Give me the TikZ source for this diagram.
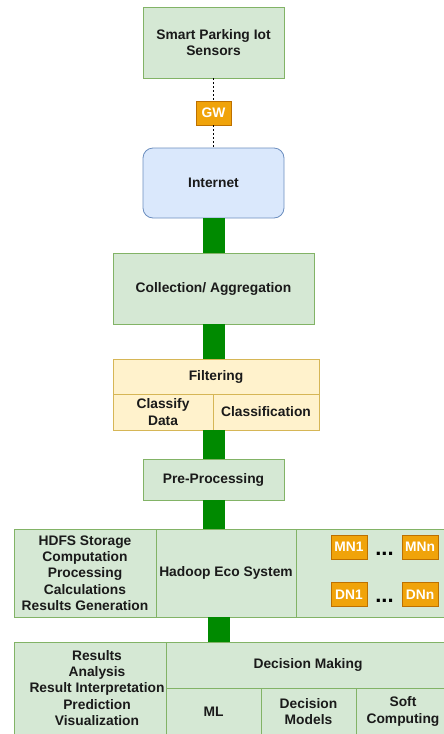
\documentclass[tikz,border=0pt]{standalone}
\usepackage{fontspec}
\setmainfont{Liberation Sans}
\usetikzlibrary{positioning}
\definecolor{boxgreen}{HTML}{D5E8D4}
\definecolor{linegreen}{HTML}{82B366}
\definecolor{boxblue}{HTML}{DAE8FC}
\definecolor{lineblue}{HTML}{6C8EBF}
\definecolor{boxyellow}{HTML}{FFF2CC}
\definecolor{lineyellow}{HTML}{D6B656}
\definecolor{boxorange}{HTML}{F0A30A}
\definecolor{lineorange}{HTML}{BD7000}
\definecolor{bargreen}{HTML}{008A00}
\definecolor{textgrey}{HTML}{1A1A1A}
\tikzset{
  box/.style={draw=linegreen, fill=boxgreen, line width=0.8pt, inner sep=0pt,
    align=center, text=textgrey, font=\bfseries\fontsize{13.8}{16.3}\selectfont},
  cloud-box/.style={box, draw=lineblue, fill=boxblue, rounded corners=10pt},
  filter-box/.style={box, draw=lineyellow, fill=boxyellow},
  node-box/.style={box, draw=lineorange, fill=boxorange, text=white,
    minimum width=36pt, minimum height=24pt},
  bar/.style={draw=bargreen, line width=22pt},
  link/.style={draw=black, line width=0.6pt, dash pattern=on 2pt off 2pt},
  dots/.style={inner sep=0pt, text=black, font=\bfseries\fontsize{22}{22}\selectfont}
}

\begin{document}
\begin{tikzpicture}[x=1pt,y=-1pt]
\useasboundingbox (0,0) rectangle (444,734);
\begin{scope}
\clip (0,0) rectangle (444,734);
\node[box, minimum width=141pt, minimum height=71pt] (sensors) at (213.5,42.5) {Smart Parking Iot\\Sensors};
\node[node-box, minimum width=35pt] (gw) at (213.5,113) {GW};
\node[cloud-box, minimum width=141pt, minimum height=70pt] (internet) at (213.5,183) {Internet};
\node[box, minimum width=201pt, minimum height=71pt] (collect) at (213.5,288.5) {Collection/ Aggregation};
\node[filter-box, minimum width=206pt, minimum height=35pt] (filter) at (216,376.5) {Filtering};
\node[filter-box, minimum width=100pt, minimum height=36pt] (classify-data) at (163,412) {Classify\\Data};
\node[filter-box, minimum width=106pt, minimum height=36pt] (classification) at (266,412) {Classification};
\node[box, minimum width=141pt, minimum height=41pt] (pre-proc) at (213.5,479.5) {Pre-Processing};
\node[box, minimum width=142pt, minimum height=88pt] (hdfs) at (85,573) {HDFS Storage\\Computation\\Processing\\Calculations\\Results Generation};
\node[box, minimum width=140pt, minimum height=88pt] (hadoop) at (226,573) {Hadoop Eco System};
\node[box, minimum width=154pt, minimum height=88pt] (cluster) at (373,573) {};
\node[node-box] (mn1) at (349,547) {MN1};
\node[node-box] (mnn) at (420,547) {MNn};
\node[node-box] (dn1) at (349,594.5) {DN1};
\node[node-box] (dnn) at (420,594.5) {DNn};
\node[dots, anchor=base] (mn-dots) at (384.5,555) {...};
\node[dots, anchor=base] (dn-dots) at (384.5,602) {...};
\node[box, minimum width=152pt, minimum height=93pt] (results) at (90,688.5) {};
\node[align=center, inner sep=0pt, text=textgrey, font=\bfseries\fontsize{13.8}{16.3}\selectfont] (results-text) at (97,688) {Results\\Analysis\\Result Interpretation\\Prediction\\Visualization};
\node[box, minimum width=284pt, minimum height=46pt] (decision) at (308,665) {Decision Making};
\node[box, minimum width=95pt, minimum height=47pt] (ml) at (213.5,711.5) {ML};
\node[box, minimum width=95pt, minimum height=47pt] (dec-models) at (308.5,711.5) {Decision\\Models};
\node[box, minimum width=94pt, minimum height=47pt] (soft-comp) at (403,711.5) {Soft\\Computing};
\end{scope}
\coordinate (hadoop-out) at (219,617);
\coordinate (decision-in) at (219,642);
\draw[link] (sensors) -- (gw);
\draw[link] (gw) -- (internet);
\draw[bar] (internet.south) -- (collect.north);
\draw[bar] (collect.south) -- (collect.south |- filter.north);
\draw[bar] (pre-proc.north |- classify-data.south) -- (pre-proc.north);
\draw[bar] (pre-proc.south) -- (pre-proc.south |- hadoop.north);
\draw[bar] (hadoop-out) -- (decision-in);
\end{tikzpicture}
\end{document}
